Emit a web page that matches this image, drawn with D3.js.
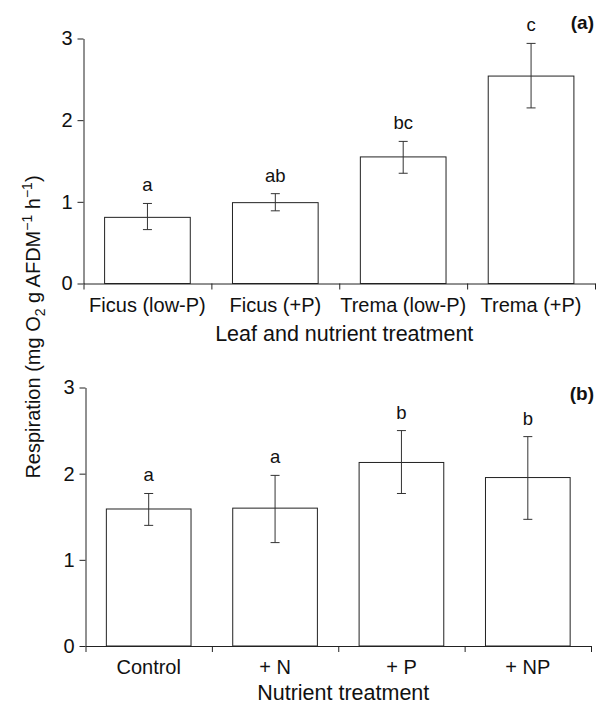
<!DOCTYPE html>
<html>
<head>
<meta charset="utf-8">
<script src="https://cdn.jsdelivr.net/npm/d3@7"></script>
<style>
    body { margin: 0; background: #fff; }
    svg { display: block; font-family: "Liberation Sans", Arial, Helvetica, sans-serif; }
    .axis path, .axis line { stroke: #222; stroke-width: 1; }
    .axis text { font-size: 20px; fill: #111; }
    .bar { fill: #fff; stroke: #222; stroke-width: 1; }
    .err { stroke: #333; stroke-width: 1; }
    .sig { font-size: 18.5px; fill: #111; text-anchor: middle; }
    .title { font-size: 21.5px; fill: #111; text-anchor: middle; }
    .ytitle { font-size: 20px; fill: #111; text-anchor: middle; }
    .panel-tag { font-size: 19px; font-weight: bold; fill: #111; text-anchor: end; }
</style>
</head>
<body>
<svg id="chart"></svg>
<script>
// Panel (a): leaf and nutrient treatment
const leafCategories = ["Ficus (low-P)", "Ficus (+P)", "Trema (low-P)", "Trema (+P)"];
const leafMeans = [0.81, 0.99, 1.55, 2.54];
const leafLower = [0.66, 0.89, 1.35, 2.15];
const leafUpper = [0.98, 1.10, 1.74, 2.94];
const leafLetters = ["a", "ab", "bc", "c"];

// Panel (b): nutrient treatment
const nutrientCategories = ["Control", "+ N", "+ P", "+ NP"];
const nutrientMeans = [1.59, 1.60, 2.13, 1.955];
const nutrientLower = [1.40, 1.20, 1.77, 1.47];
const nutrientUpper = [1.77, 1.98, 2.50, 2.43];
const nutrientLetters = ["a", "a", "b", "b"];

const yTicks = [0, 1, 2, 3];

const svg = d3.select("#chart")
    .attr("width", 597)
    .attr("height", 704);

function drawPanel(opts) {
    const { left, right, top, bottom, categories, means, lower, upper, letters, xTitle, titleY, tag, tagY } = opts;

    const g = svg.append("g");

    const y = d3.scaleLinear()
        .domain([0, 3])
        .range([bottom, top]);

    const xBand = d3.scaleBand()
        .domain(categories)
        .range([left, right])
        .padding(0);

    // Boundary scale for the tick marks between categories
    const xEdge = d3.scaleLinear()
        .domain([0, categories.length])
        .range([left, right]);

    const barW = xBand.bandwidth() * 0.67;
    const capW = 9;

    // Bars
    g.selectAll(".bar")
        .data(means)
        .join("rect")
        .attr("class", "bar")
        .attr("x", (d, i) => xBand(categories[i]) + (xBand.bandwidth() - barW) / 2)
        .attr("y", d => y(d))
        .attr("width", barW)
        .attr("height", d => y(0) - y(d));

    // Error bars
    const cx = i => xBand(categories[i]) + xBand.bandwidth() / 2;
    const err = g.selectAll(".errg")
        .data(means)
        .join("g");

    err.append("line")
        .attr("class", "err")
        .attr("x1", (d, i) => cx(i))
        .attr("x2", (d, i) => cx(i))
        .attr("y1", (d, i) => y(lower[i]))
        .attr("y2", (d, i) => y(upper[i]));

    err.append("line")
        .attr("class", "err")
        .attr("x1", (d, i) => cx(i) - capW / 2)
        .attr("x2", (d, i) => cx(i) + capW / 2)
        .attr("y1", (d, i) => y(upper[i]))
        .attr("y2", (d, i) => y(upper[i]));

    err.append("line")
        .attr("class", "err")
        .attr("x1", (d, i) => cx(i) - capW / 2)
        .attr("x2", (d, i) => cx(i) + capW / 2)
        .attr("y1", (d, i) => y(lower[i]))
        .attr("y2", (d, i) => y(lower[i]));

    // Significance letters
    g.selectAll(".sig")
        .data(letters)
        .join("text")
        .attr("class", "sig")
        .attr("x", (d, i) => cx(i))
        .attr("y", (d, i) => y(upper[i]) - 12)
        .text(d => d);

    // Y axis
    g.append("g")
        .attr("class", "axis")
        .attr("transform", `translate(${left},0)`)
        .call(d3.axisLeft(y).tickValues(yTicks).tickFormat(d3.format("d")).tickSize(6).tickSizeOuter(0).tickPadding(5));

    // X axis line with boundary ticks
    g.append("g")
        .attr("class", "axis")
        .attr("transform", `translate(0,${bottom})`)
        .call(d3.axisBottom(xEdge).tickValues(d3.range(categories.length + 1)).tickFormat("").tickSize(6).tickSizeOuter(0));

    // Category labels
    const labels = g.append("g")
        .attr("class", "axis")
        .attr("transform", `translate(0,${bottom})`)
        .call(d3.axisBottom(xBand).tickSize(0).tickPadding(14));
    labels.select(".domain").remove();

    // X title
    g.append("text")
        .attr("class", "title")
        .attr("x", (left + right) / 2 + 5)
        .attr("y", titleY)
        .text(xTitle);

    // Panel tag
    g.append("text")
        .attr("class", "panel-tag")
        .attr("x", 594)
        .attr("y", tagY)
        .text(tag);
}

drawPanel({
    left: 83.5, right: 595, top: 38.5, bottom: 283.5,
    categories: leafCategories, means: leafMeans, lower: leafLower, upper: leafUpper, letters: leafLetters,
    xTitle: "Leaf and nutrient treatment", titleY: 341, tag: "(a)", tagY: 29
});

drawPanel({
    left: 85.5, right: 591, top: 387.5, bottom: 646,
    categories: nutrientCategories, means: nutrientMeans, lower: nutrientLower, upper: nutrientUpper, letters: nutrientLetters,
    xTitle: "Nutrient treatment", titleY: 700, tag: "(b)", tagY: 400
});

// Shared y axis title
const yTitle = svg.append("text")
    .attr("class", "ytitle")
    .attr("transform", "translate(40,327) rotate(-90)");
yTitle.append("tspan").text("Respiration (mg O");
yTitle.append("tspan").attr("font-size", "14px").attr("dy", 5).text("2");
yTitle.append("tspan").attr("dy", -5).text(" g AFDM");
yTitle.append("tspan").attr("font-size", "14px").attr("dy", -8).text("\u22121");
yTitle.append("tspan").attr("dy", 8).text(" h");
yTitle.append("tspan").attr("font-size", "14px").attr("dy", -8).text("\u22121");
yTitle.append("tspan").attr("dy", 8).text(")");
</script>
</body>
</html>
